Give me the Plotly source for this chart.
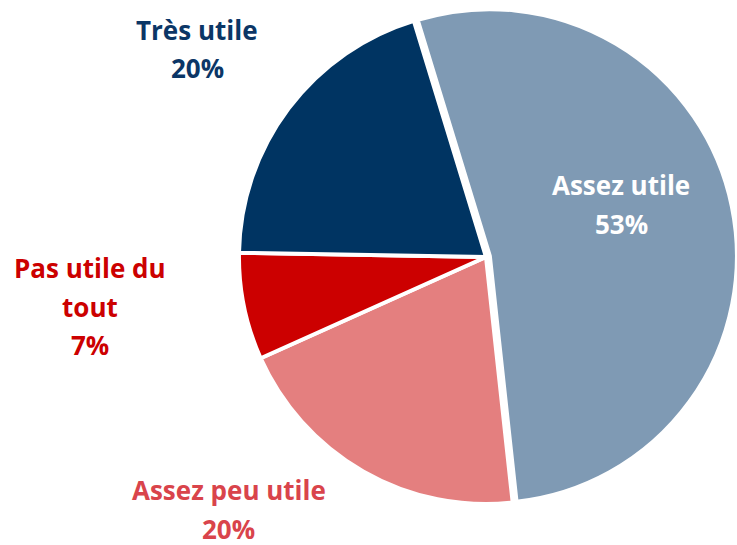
import plotly.graph_objects as go

# ---- data ----
categories = ["Assez utile", "Assez peu utile", "Pas utile du tout", "Très utile"]
values = [53, 20, 7, 20]
label_lines = [["Assez utile"], ["Assez peu utile"], ["Pas utile du", "tout"], ["Très utile"]]

# ---- styles ----
slice_colors = ["#7F9AB4", "#E47F7F", "#CC0000", "#003462"]
text_colors = ["#FFFFFF", "#D9444B", "#CC0000", "#0B3666"]
pulls = [0.016, 0, 0, 0]
FONT = "Open Sans"
FS = 26
LINE = 38.5
W, H = 737, 545
# top line centre (px) and x centre (px) of each label block
label_pos = [(621, 185), (229, 490), (90, 268), (197, 30)]

cx, cy, half = 486, 257, 251
fig = go.Figure(go.Pie(
    labels=categories,
    values=values,
    sort=False,
    direction="clockwise",
    rotation=-17,
    pull=pulls,
    marker=dict(colors=slice_colors, line=dict(color="white", width=4)),
    textinfo="none",
    hoverinfo="label+percent",
    domain=dict(x=[(cx - half) / W, min(1, (cx + half) / W)],
                y=[(H - cy - half) / H, (H - cy + half) / H]),
))

anns = []
for lines, v, (px, py), col in zip(label_lines, values, label_pos, text_colors):
    all_lines = lines + [f"{v}%"]
    for i, t in enumerate(all_lines):
        anns.append(dict(
            x=px / W, y=1 - (py + i * LINE) / H, xref="paper", yref="paper",
            text=f"<b>{t}</b>", showarrow=False, xanchor="center", yanchor="middle",
            font=dict(family=FONT, size=FS, color=col),
        ))

fig.update_layout(
    width=W, height=H,
    margin=dict(l=0, r=0, t=0, b=0),
    paper_bgcolor="white", plot_bgcolor="white",
    showlegend=False,
    annotations=anns,
)
fig.write_html(
    "out.html",
    config={"displayModeBar": False},
    post_script="document.body.style.margin='0px';document.body.style.overflow='hidden';",
)
